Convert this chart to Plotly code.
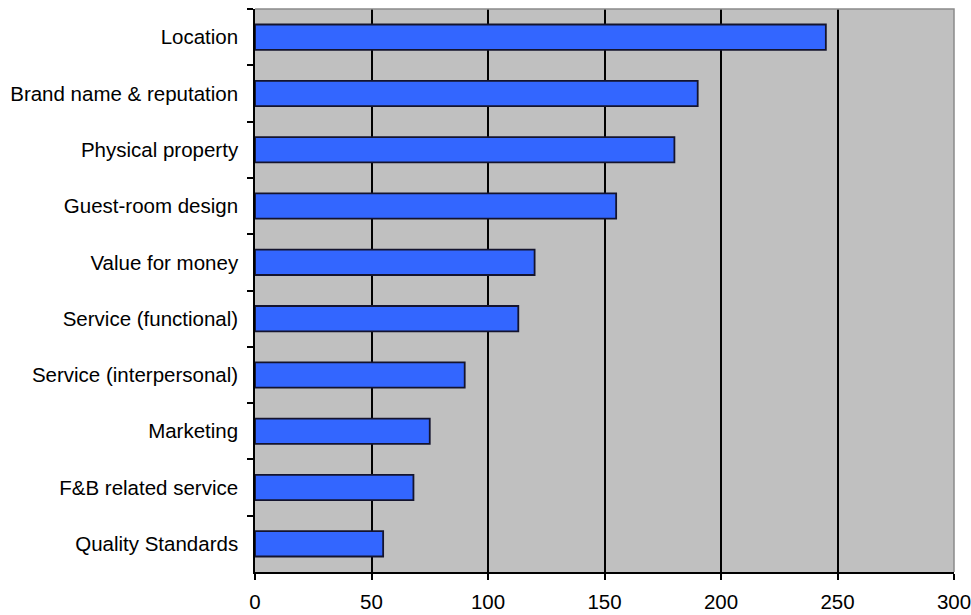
import plotly.graph_objects as go

categories = ["Location", "Brand name & reputation", "Physical property", "Guest-room design",
              "Value for money", "Service (functional)", "Service (interpersonal)", "Marketing",
              "F&B related service", "Quality Standards"]
values = [245, 190, 180, 155, 120, 113, 90, 75, 68, 55]
x_ticks = [0, 50, 100, 150, 200, 250, 300]

font = dict(family="Liberation Sans, Arial, sans-serif", size=20.5, color="#000000")

fig = go.Figure(go.Bar(
    x=values, y=categories, orientation="h",
    marker=dict(color="#3366FF", line=dict(color="#14142e", width=1.8)),
    width=0.45,
))

fig.update_layout(
    width=971, height=615,
    margin=dict(l=255, r=17, t=9, b=43),
    paper_bgcolor="#FFFFFF", plot_bgcolor="#C0C0C0",
    font=font, showlegend=False,
    xaxis=dict(range=[0, 300], tickvals=x_ticks, ticktext=[str(v) for v in x_ticks],
               showgrid=True, gridcolor="#000000", gridwidth=1.5,
               showline=True, linecolor="#000000", linewidth=1.5,
               ticks="outside", ticklen=6, tickcolor="#000000", tickwidth=1.5,
               zeroline=False, fixedrange=True, tickfont=font, automargin=False,
               ticklabelstandoff=5, ticklabeloverflow="allow"),
    yaxis=dict(categoryorder="array", categoryarray=categories, autorange="reversed",
               showgrid=False, showline=True, linecolor="#000000", linewidth=1.5,
               ticks="outside", ticklen=6, tickcolor="#000000", tickwidth=1.5,
               tickson="boundaries", ticklabelstandoff=11, fixedrange=True, tickfont=font,
               automargin=False, ticklabeloverflow="allow"),
    shapes=[dict(type="path", xref="paper", yref="paper", path="M 0,1 L 1,1 L 1,0",
                 line=dict(color="#8a8a8a", width=1.5), layer="above")],
)

fig.write_html("out.html")
